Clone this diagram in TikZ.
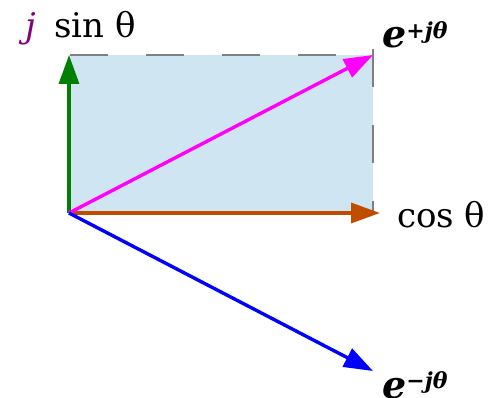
\documentclass[tikz,border=0pt]{standalone}
\usepackage{fontspec}
\setmainfont{DejaVu Serif}
\usetikzlibrary{arrows.meta, positioning}
\definecolor{boxblue}{RGB}{207,229,242}
\definecolor{cosbrown}{RGB}{192,76,0}
\definecolor{sinpurple}{RGB}{128,0,128}
\definecolor{expmagenta}{RGB}{255,0,255}
\definecolor{expblue}{RGB}{0,0,255}
\tikzset{
  phasor/.style={
    -{Triangle[length=29pt, width=20pt]}, line width=3.4pt, draw=#1
  },
  edgedash/.style={draw=gray, line width=1.4pt},
  axislabel/.style={
    inner sep=0pt, font=\fontsize{34}{36}\selectfont, text=black
  },
  explabel/.style={
    inner sep=0pt, font=\fontsize{38}{40}\selectfont\bfseries\itshape
  },
}

\begin{document}
\begin{tikzpicture}[x=1pt, y=-1pt]
    \useasboundingbox (0,0) rectangle (501,398);

    \coordinate (o)  at (69,213);
    \coordinate (tl) at (69,55);
    \coordinate (tr) at (373,55);
    \coordinate (br) at (373,213);

    % shaded box, dashed on top and right
    \fill[boxblue] (o) rectangle (tr);
    \foreach \a in {70,146,222,298}
      \draw[edgedash] (\a,55) -- (\a+38,55);
    \foreach \b in {49,125,201}
      \draw[edgedash] (373,\b) -- (373,{min(\b+38,213)});

    \coordinate (cosend) at (380,213);
    \coordinate (mend)   at (373,371);

    \node[axislabel, anchor=base west] (sinlbl) at (25,38)
         {{\color{sinpurple}\itshape j}\hspace{8pt} sin θ};
    \node[axislabel, anchor=base west] (coslbl) at (397,228) {cos θ};
    \node[explabel, anchor=base west] (plbl) at (382,48)
         {e\textsuperscript{\fontsize{22}{24}\selectfont +jθ}};
    \node[explabel, anchor=base west] (mlbl) at (382,398)
         {e\textsuperscript{\fontsize{22}{24}\selectfont −jθ}};

    \draw[phasor=green!50!black] (o) -- (tl);
    \draw[phasor=cosbrown] (o) -- (cosend);
    \draw[phasor=expmagenta] (o) -- (tr);
    \draw[phasor=expblue] (o) -- (mend);

  \end{tikzpicture}
\end{document}
